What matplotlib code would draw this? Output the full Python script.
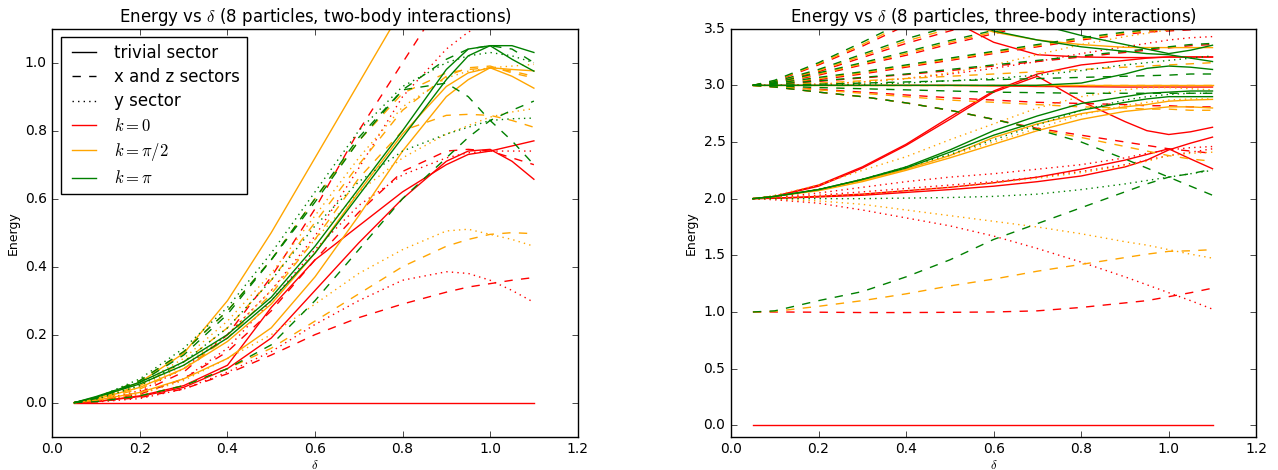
import matplotlib
matplotlib.use("Agg")
import matplotlib.pyplot as plt
from matplotlib.lines import Line2D

plt.style.use("classic")
plt.rcParams["figure.facecolor"] = "white"
plt.rcParams["savefig.facecolor"] = "white"
plt.rcParams["mathtext.fontset"] = "cm"
plt.rcParams["font.family"] = ["DejaVu Sans"]

# ---------------- data ----------------
delta = [0.05, 0.1, 0.2, 0.3, 0.4, 0.5, 0.6, 0.7, 0.8, 0.9, 0.95, 1.0, 1.05, 1.1]

# two-body interactions
tb_r_s1 = [0.0, 0.0, 0.0, 0.0, 0.0, 0.0, 0.0, 0.0, 0.0, 0.0, 0.0, 0.0, 0.0, 0.0]
tb_r_s2 = [0.0, 0.003, 0.02, 0.05, 0.11, 0.28, 0.42, 0.52, 0.62, 0.70, 0.73, 0.74, 0.755, 0.77]
tb_r_s3 = [0.0, 0.003, 0.018, 0.045, 0.10, 0.19, 0.33, 0.47, 0.60, 0.71, 0.74, 0.745, 0.71, 0.657]
tb_o_s1 = [0.0, 0.012, 0.06, 0.145, 0.30, 0.50, 0.72, 0.94, 1.16, 1.35, 1.43, 1.50, 1.55, 1.60]
tb_o_s2 = [0.0, 0.010, 0.045, 0.10, 0.18, 0.29, 0.44, 0.62, 0.79, 0.93, 0.97, 0.985, 0.98, 0.976]
tb_o_s3 = [0.0, 0.007, 0.03, 0.07, 0.13, 0.22, 0.37, 0.55, 0.74, 0.90, 0.95, 0.985, 0.96, 0.925]
tb_g_s1 = [0.0, 0.018, 0.06, 0.12, 0.20, 0.31, 0.46, 0.63, 0.80, 0.98, 1.04, 1.05, 1.05, 1.03]
tb_g_s2 = [0.0, 0.016, 0.055, 0.11, 0.19, 0.30, 0.44, 0.61, 0.78, 0.95, 1.02, 1.05, 1.01, 0.975]

tb_r_d1 = [0.0, 0.005, 0.03, 0.09, 0.20, 0.37, 0.57, 0.80, 1.00, 1.20, 1.25, 1.22, 1.16, 1.095]
tb_r_d2 = [0.0, 0.004, 0.025, 0.07, 0.15, 0.27, 0.42, 0.56, 0.68, 0.74, 0.745, 0.74, 0.72, 0.70]
tb_r_d3 = [0.0, 0.003, 0.015, 0.04, 0.085, 0.14, 0.20, 0.25, 0.29, 0.325, 0.34, 0.35, 0.36, 0.368]
tb_o_d1 = [0.0, 0.010, 0.05, 0.12, 0.22, 0.36, 0.53, 0.70, 0.86, 0.96, 0.985, 0.99, 0.97, 0.955]
tb_o_d2 = [0.0, 0.008, 0.04, 0.10, 0.19, 0.32, 0.48, 0.66, 0.80, 0.845, 0.848, 0.845, 0.83, 0.81]
tb_o_d3 = [0.0, 0.004, 0.02, 0.05, 0.10, 0.16, 0.24, 0.32, 0.40, 0.46, 0.48, 0.495, 0.50, 0.497]
tb_o_d4 = [0.0, 0.013, 0.065, 0.15, 0.27, 0.42, 0.60, 0.77, 0.91, 0.97, 0.98, 0.985, 0.975, 0.96]
tb_g_d1 = [0.0, 0.012, 0.06, 0.14, 0.26, 0.42, 0.60, 0.78, 0.92, 0.94, 0.90, 0.83, 0.77, 0.70]
tb_g_d2 = [0.0, 0.003, 0.02, 0.05, 0.10, 0.17, 0.30, 0.45, 0.60, 0.72, 0.78, 0.83, 0.86, 0.887]
tb_g_d3 = [0.0, 0.014, 0.065, 0.15, 0.27, 0.42, 0.59, 0.77, 0.92, 1.01, 1.04, 1.05, 1.04, 1.00]

tb_r_p1 = [0.0, 0.006, 0.035, 0.10, 0.20, 0.33, 0.49, 0.69, 0.90, 1.04, 1.09, 1.12, 1.14, 1.15]
tb_r_p2 = [0.0, 0.002, 0.012, 0.04, 0.09, 0.15, 0.23, 0.30, 0.36, 0.385, 0.38, 0.36, 0.33, 0.295]
tb_r_p3 = [0.0, 0.004, 0.025, 0.07, 0.16, 0.30, 0.45, 0.58, 0.67, 0.72, 0.735, 0.74, 0.74, 0.74]
tb_o_p1 = [0.0, 0.005, 0.025, 0.065, 0.13, 0.20, 0.29, 0.38, 0.45, 0.505, 0.51, 0.495, 0.48, 0.46]
tb_o_p2 = [0.0, 0.009, 0.045, 0.11, 0.20, 0.33, 0.48, 0.62, 0.72, 0.79, 0.815, 0.84, 0.855, 0.865]
tb_o_p3 = [0.0, 0.011, 0.055, 0.13, 0.24, 0.38, 0.55, 0.72, 0.87, 0.955, 0.975, 0.985, 0.99, 0.995]
tb_g_p1 = [0.0, 0.010, 0.05, 0.12, 0.22, 0.36, 0.52, 0.65, 0.74, 0.79, 0.81, 0.83, 0.835, 0.837]
tb_g_p2 = [0.0, 0.014, 0.07, 0.16, 0.28, 0.44, 0.62, 0.80, 0.93, 1.00, 1.02, 1.03, 1.02, 1.00]

# three-body interactions
th_r_s0 = [0.0, 0.0, 0.0, 0.0, 0.0, 0.0, 0.0, 0.0, 0.0, 0.0, 0.0, 0.0, 0.0, 0.0]
th_r_s1 = [2.0, 2.02, 2.12, 2.28, 2.48, 2.72, 2.95, 3.10, 3.18, 3.22, 3.24, 3.25, 3.25, 3.25]
th_r_s2 = [2.0, 2.02, 2.11, 2.27, 2.47, 2.70, 2.94, 3.08, 2.86, 2.68, 2.60, 2.566, 2.59, 2.63]
th_r_s3 = [4.0, 4.0, 3.98, 3.92, 3.80, 3.58, 3.38, 3.27, 3.25, 3.245, 3.245, 3.25, 3.25, 3.25]
th_r_s4 = [2.0, 2.005, 2.02, 2.04, 2.07, 2.10, 2.14, 2.19, 2.26, 2.34, 2.39, 2.44, 2.35, 2.264]
th_r_s5 = [2.0, 2.003, 2.015, 2.03, 2.055, 2.08, 2.11, 2.15, 2.20, 2.28, 2.34, 2.43, 2.49, 2.543]
th_r_s6 = [3.0, 3.0, 3.0, 3.0, 3.0, 3.0, 2.995, 2.99, 2.988, 2.985, 2.985, 2.985, 2.985, 2.985]
th_o_s1 = [3.0, 3.0, 3.0, 3.0, 3.0, 3.0, 3.0, 3.0, 3.0, 3.0, 3.0, 3.0, 3.0, 3.0]
th_o_s2 = [2.0, 2.02, 2.08, 2.16, 2.26, 2.38, 2.54, 2.66, 2.75, 2.81, 2.83, 2.86, 2.87, 2.876]
th_o_s3 = [2.0, 2.02, 2.07, 2.15, 2.25, 2.36, 2.48, 2.60, 2.70, 2.77, 2.79, 2.81, 2.81, 2.80]
th_o_s4 = [4.0, 4.0, 3.98, 3.92, 3.82, 3.60, 3.47, 3.40, 3.36, 3.335, 3.333, 3.333, 3.333, 3.333]
th_g_s1 = [2.0, 2.02, 2.08, 2.17, 2.28, 2.43, 2.60, 2.73, 2.84, 2.90, 2.93, 2.94, 2.95, 2.95]
th_g_s2 = [2.0, 2.02, 2.08, 2.17, 2.27, 2.41, 2.56, 2.68, 2.78, 2.85, 2.88, 2.90, 2.90, 2.90]
th_g_s3 = [3.0, 3.0, 3.0, 3.0, 3.0, 3.0, 3.0, 3.0, 3.02, 3.10, 3.15, 3.17, 3.16, 3.14]
th_g_s4 = [4.0, 3.99, 3.95, 3.88, 3.78, 3.65, 3.48, 3.40, 3.34, 3.30, 3.28, 3.27, 3.24, 3.21]
th_g_s5 = [4.0, 4.0, 4.0, 3.98, 3.90, 3.78, 3.64, 3.54, 3.44, 3.36, 3.32, 3.28, 3.31, 3.354]

th_r_d1 = [1.0, 1.0, 0.998, 0.995, 0.995, 0.997, 1.0, 1.01, 1.04, 1.08, 1.10, 1.135, 1.17, 1.21]
th_o_d1 = [1.0, 1.005, 1.05, 1.10, 1.16, 1.23, 1.29, 1.36, 1.42, 1.48, 1.51, 1.535, 1.54, 1.55]
th_g_d1 = [1.0, 1.01, 1.10, 1.18, 1.31, 1.46, 1.64, 1.78, 1.92, 2.06, 2.13, 2.19, 2.22, 2.26]

th_g_fan1 = [3.0, 3.045, 3.20, 3.38, 3.57, 3.77, 3.97, 4.12, 4.22, 4.32, 4.37, 4.42, 4.47, 4.52]
th_o_fan1 = [3.0, 3.04, 3.19, 3.36, 3.55, 3.75, 3.95, 4.10, 4.20, 4.30, 4.35, 4.40, 4.45, 4.50]
th_r_fan1 = [3.0, 3.035, 3.18, 3.345, 3.53, 3.73, 3.93, 4.08, 4.18, 4.28, 4.33, 4.38, 4.43, 4.48]
th_g_fan2 = [3.0, 3.033, 3.14, 3.275, 3.41, 3.52, 3.62, 3.72, 3.82, 3.92, 3.97, 4.02, 4.07, 4.12]
th_o_fan2 = [3.0, 3.03, 3.13, 3.26, 3.39, 3.50, 3.60, 3.70, 3.80, 3.90, 3.95, 4.00, 4.05, 4.10]
th_r_fan2 = [3.0, 3.027, 3.12, 3.245, 3.37, 3.48, 3.58, 3.68, 3.78, 3.88, 3.93, 3.98, 4.03, 4.08]
th_g_fan3 = [3.0, 3.023, 3.11, 3.20, 3.295, 3.395, 3.485, 3.575, 3.655, 3.715, 3.735, 3.755, 3.775, 3.795]
th_o_fan3 = [3.0, 3.02, 3.10, 3.19, 3.28, 3.38, 3.47, 3.56, 3.64, 3.70, 3.72, 3.74, 3.76, 3.78]
th_r_fan3 = [3.0, 3.017, 3.09, 3.18, 3.265, 3.365, 3.455, 3.545, 3.625, 3.685, 3.705, 3.725, 3.745, 3.765]
th_g_fan4 = [3.0, 3.017, 3.07, 3.12, 3.18, 3.24, 3.30, 3.36, 3.42, 3.47, 3.49, 3.50, 3.51, 3.52]
th_o_fan4 = [3.0, 3.015, 3.06, 3.11, 3.17, 3.23, 3.29, 3.35, 3.41, 3.46, 3.48, 3.49, 3.50, 3.51]
th_r_fan4 = [3.0, 3.013, 3.05, 3.10, 3.16, 3.22, 3.28, 3.34, 3.40, 3.45, 3.47, 3.48, 3.49, 3.50]
th_g_fan5 = [3.0, 3.01, 3.04, 3.07, 3.10, 3.14, 3.18, 3.22, 3.26, 3.30, 3.32, 3.34, 3.36, 3.37]
th_r_fan5 = [3.0, 3.008, 3.035, 3.065, 3.095, 3.13, 3.17, 3.21, 3.25, 3.29, 3.31, 3.33, 3.35, 3.36]
th_o_fan6 = [3.0, 3.005, 3.02, 3.04, 3.06, 3.08, 3.10, 3.12, 3.14, 3.16, 3.17, 3.18, 3.19, 3.20]
th_g_fan7 = [3.0, 3.0, 3.01, 3.02, 3.03, 3.04, 3.05, 3.06, 3.07, 3.08, 3.085, 3.09, 3.10, 3.10]
th_g_fd1 = [3.0, 2.985, 2.94, 2.90, 2.845, 2.78, 2.70, 2.61, 2.50, 2.35, 2.27, 2.19, 2.11, 2.03]
th_o_fd1 = [3.0, 2.985, 2.94, 2.90, 2.845, 2.78, 2.70, 2.61, 2.54, 2.46, 2.42, 2.38, 2.35, 2.33]
th_r_fd1 = [3.0, 2.985, 2.94, 2.90, 2.845, 2.78, 2.70, 2.62, 2.56, 2.50, 2.47, 2.44, 2.42, 2.40]
th_o_fd2 = [3.0, 2.99, 2.96, 2.93, 2.90, 2.87, 2.85, 2.83, 2.81, 2.80, 2.79, 2.79, 2.78, 2.78]
th_r_fd2 = [3.0, 2.99, 2.965, 2.94, 2.915, 2.89, 2.87, 2.85, 2.84, 2.83, 2.82, 2.82, 2.81, 2.81]
th_g_fd3 = [3.0, 2.995, 2.98, 2.97, 2.96, 2.95, 2.94, 2.935, 2.93, 2.93, 2.93, 2.93, 2.93, 2.93]
th_o_flat_d = [3.0, 3.0, 3.0, 3.0, 3.0, 3.0, 3.0, 3.0, 3.0, 3.0, 3.0, 3.0, 3.0, 3.0]

th_r_p1 = [2.0, 2.01, 2.05, 2.10, 2.15, 2.19, 2.22, 2.26, 2.30, 2.36, 2.40, 2.43, 2.45, 2.46]
th_r_p2 = [2.0, 2.005, 2.03, 2.06, 2.09, 2.12, 2.15, 2.19, 2.24, 2.30, 2.34, 2.38, 2.41, 2.44]
th_r_p3 = [2.0, 1.99, 1.96, 1.90, 1.83, 1.76, 1.67, 1.56, 1.44, 1.31, 1.24, 1.17, 1.10, 1.025]
th_r_p4 = [3.0, 3.0, 3.01, 3.03, 3.06, 3.10, 3.15, 3.21, 3.28, 3.34, 3.37, 3.40, 3.42, 3.43]
th_o_p1 = [2.0, 2.03, 2.12, 2.25, 2.37, 2.52, 2.66, 2.80, 2.90, 2.96, 2.98, 2.98, 2.97, 2.96]
th_o_p2 = [2.0, 2.02, 2.08, 2.17, 2.27, 2.38, 2.50, 2.62, 2.74, 2.82, 2.85, 2.87, 2.88, 2.88]
th_o_p3 = [2.0, 2.005, 2.02, 2.04, 2.07, 2.10, 2.14, 2.18, 2.23, 2.29, 2.33, 2.38, 2.40, 2.41]
th_o_p4 = [2.0, 1.995, 1.98, 1.95, 1.90, 1.85, 1.80, 1.75, 1.69, 1.62, 1.59, 1.55, 1.51, 1.475]
th_o_p5 = [3.0, 3.0, 3.01, 3.03, 3.06, 3.11, 3.18, 3.27, 3.36, 3.43, 3.46, 3.49, 3.52, 3.55]
th_g_p1 = [2.0, 2.02, 2.08, 2.17, 2.28, 2.39, 2.52, 2.65, 2.78, 2.87, 2.90, 2.92, 2.93, 2.93]
th_g_p2 = [2.0, 2.0, 2.0, 2.0, 2.005, 2.01, 2.02, 2.04, 2.08, 2.13, 2.16, 2.19, 2.22, 2.25]
th_g_p3 = [3.0, 3.0, 3.0, 3.01, 3.02, 3.04, 3.06, 3.09, 3.13, 3.18, 3.20, 3.22, 3.24, 3.26]

legend_labels = ["trivial sector", "x and z sectors", "y sector",
                 r"$k=0$", r"$k=\pi/2$", r"$k=\pi$"]

RED, ORANGE, GREEN = "red", "orange", "green"

left_lines = [
    (tb_r_s1, RED, "-"), (tb_r_s2, RED, "-"), (tb_r_s3, RED, "-"),
    (tb_r_d1, RED, "--"), (tb_r_d2, RED, "--"), (tb_r_d3, RED, "--"),
    (tb_r_p1, RED, ":"), (tb_r_p2, RED, ":"), (tb_r_p3, RED, ":"),
    (tb_o_s1, ORANGE, "-"), (tb_o_s2, ORANGE, "-"), (tb_o_s3, ORANGE, "-"),
    (tb_o_d1, ORANGE, "--"), (tb_o_d2, ORANGE, "--"), (tb_o_d3, ORANGE, "--"), (tb_o_d4, ORANGE, "--"),
    (tb_o_p1, ORANGE, ":"), (tb_o_p2, ORANGE, ":"), (tb_o_p3, ORANGE, ":"),
    (tb_g_s1, GREEN, "-"), (tb_g_s2, GREEN, "-"),
    (tb_g_d1, GREEN, "--"), (tb_g_d2, GREEN, "--"), (tb_g_d3, GREEN, "--"),
    (tb_g_p1, GREEN, ":"), (tb_g_p2, GREEN, ":"),
]

right_lines = [
    (th_r_s0, RED, "-"), (th_r_s1, RED, "-"), (th_r_s2, RED, "-"), (th_r_s3, RED, "-"),
    (th_r_s4, RED, "-"), (th_r_s5, RED, "-"), (th_r_s6, RED, "-"),
    (th_r_d1, RED, "--"), (th_r_fan1, RED, "--"), (th_r_fan2, RED, "--"), (th_r_fan3, RED, "--"),
    (th_r_fan4, RED, "--"), (th_r_fan5, RED, "--"), (th_r_fd1, RED, "--"), (th_r_fd2, RED, "--"),
    (th_r_p1, RED, ":"), (th_r_p2, RED, ":"), (th_r_p3, RED, ":"), (th_r_p4, RED, ":"),
    (th_o_s1, ORANGE, "-"), (th_o_s2, ORANGE, "-"), (th_o_s3, ORANGE, "-"), (th_o_s4, ORANGE, "-"),
    (th_o_d1, ORANGE, "--"), (th_o_fan1, ORANGE, "--"), (th_o_fan2, ORANGE, "--"), (th_o_fan3, ORANGE, "--"),
    (th_o_fan4, ORANGE, "--"), (th_o_fan6, ORANGE, "--"), (th_o_fd1, ORANGE, "--"), (th_o_fd2, ORANGE, "--"),
    (th_o_flat_d, ORANGE, "--"),
    (th_o_p1, ORANGE, ":"), (th_o_p2, ORANGE, ":"), (th_o_p3, ORANGE, ":"), (th_o_p4, ORANGE, ":"), (th_o_p5, ORANGE, ":"),
    (th_g_s1, GREEN, "-"), (th_g_s2, GREEN, "-"), (th_g_s3, GREEN, "-"), (th_g_s4, GREEN, "-"), (th_g_s5, GREEN, "-"),
    (th_g_d1, GREEN, "--"), (th_g_fan1, GREEN, "--"), (th_g_fan2, GREEN, "--"), (th_g_fan3, GREEN, "--"),
    (th_g_fan4, GREEN, "--"), (th_g_fan5, GREEN, "--"), (th_g_fan7, GREEN, "--"), (th_g_fd1, GREEN, "--"),
    (th_g_fd3, GREEN, "--"),
    (th_g_p1, GREEN, ":"), (th_g_p2, GREEN, ":"), (th_g_p3, GREEN, ":"),
]

# ---------------- figure ----------------
fig = plt.figure(figsize=(12.78, 4.70), dpi=100)
ax1 = fig.add_axes([0.041, 0.071, 0.411, 0.868])
ax2 = fig.add_axes([0.572, 0.071, 0.411, 0.868])

for ax, lines in ((ax1, left_lines), (ax2, right_lines)):
    for ys, c, ls in lines:
        ax.plot(delta, ys, color=c, linestyle=ls, linewidth=1.0)
    ax.set_xlim(0.0, 1.2)
    ax.set_xticks([0.0, 0.2, 0.4, 0.6, 0.8, 1.0, 1.2])
    ax.tick_params(labelsize=10, direction="in", top=True, right=True)
    ax.set_xlabel(r"$\delta$", fontsize=9, labelpad=2)
    ax.set_ylabel("Energy", fontsize=9, labelpad=4)

ax1.set_ylim(-0.1, 1.1)
ax1.set_yticks([0.0, 0.2, 0.4, 0.6, 0.8, 1.0])
ax2.set_ylim(-0.1, 3.5)
ax2.set_yticks([0.0, 0.5, 1.0, 1.5, 2.0, 2.5, 3.0, 3.5])

ax1.set_title(r"Energy vs $\delta$ (8 particles, two-body interactions)", fontsize=12)
ax2.set_title(r"Energy vs $\delta$ (8 particles, three-body interactions)", fontsize=12)

handles = [Line2D([], [], color="black", linestyle="-"),
           Line2D([], [], color="black", linestyle="--"),
           Line2D([], [], color="black", linestyle=":"),
           Line2D([], [], color=RED, linestyle="-"),
           Line2D([], [], color=ORANGE, linestyle="-"),
           Line2D([], [], color=GREEN, linestyle="-")]
leg = ax1.legend(handles, legend_labels, loc="upper left", fontsize=12,
                 fancybox=False, frameon=True, handlelength=2.0,
                 labelspacing=0.38, borderpad=0.4)
leg.get_frame().set_edgecolor("black")

fig.savefig("out.png", dpi=100)
